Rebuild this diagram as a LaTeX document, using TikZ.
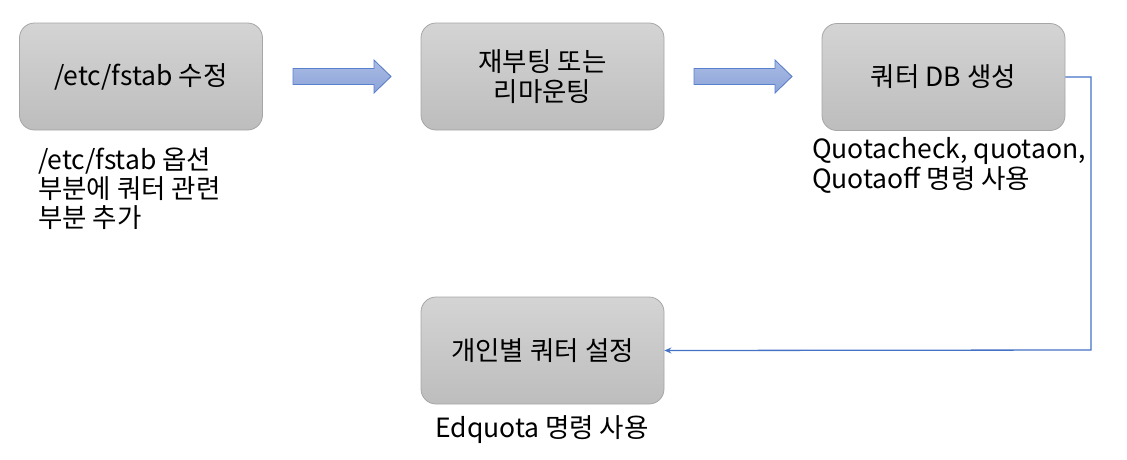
\documentclass[tikz,border=0pt]{standalone}
\usepackage{fontspec}
\setmainfont{Noto Sans CJK KR}
\usetikzlibrary{arrows.meta}
\definecolor{boxtop}{HTML}{D4D4D4}
\definecolor{boxbot}{HTML}{BDBDBD}
\definecolor{boxline}{HTML}{A6A6A6}
\definecolor{arrtop}{HTML}{A9BBE4}
\definecolor{arrbot}{HTML}{8DA4D9}
\definecolor{arrline}{HTML}{5B80CC}
\definecolor{conncol}{HTML}{4472C4}
\tikzset{
  stepbox/.style={draw=boxline, line width=0.8pt, rounded corners=15pt,
    top color=boxtop, bottom color=boxbot, minimum width=243pt, minimum height=107pt,
    align=center, font=\fontsize{26.5}{30}\selectfont, inner sep=0pt},
  lbl/.style={font=\fontsize{26.5}{29}\selectfont, inner sep=0pt},
  blockarr/.style={draw=arrline, line width=0.8pt, top color=arrtop, bottom color=arrbot},
  conn/.style={draw=conncol, line width=1.3pt, -{Stealth[length=7pt,width=6pt]}}
}
\begin{document}
\begin{tikzpicture}[x=1pt,y=-1pt]
\useasboundingbox (0,0) rectangle (1127,459);
\node[stepbox] (b1) at (141,76.5) {/etc/fstab 수정};
\node[stepbox] (b2) at (542.5,76.5) {재부팅 또는\\리마운팅};
\node[stepbox] (b3) at (943.5,77) {쿼터 DB 생성};
\node[stepbox] (b4) at (542.5,350.5) {개인별 쿼터 설정};
\node[lbl, anchor=north west, align=left] (l1) at (38,147) {/etc/fstab 옵션\\부분에 쿼터 관련\\부분 추가};
\node[lbl, anchor=north west, align=left, font=\fontsize{26.5}{30}\selectfont] (l3) at (812,137) {Quotacheck, quotaon,\\Quotaoff 명령 사용};
\node[lbl, anchor=center] (l4) at (542,430) {Edquota 명령 사용};
\filldraw[blockarr] (293,68.5) -- (374,68.5) -- (374,60) -- (391,76.5) -- (374,93) -- (374,84.5) -- (293,84.5) -- cycle;
\filldraw[blockarr] (694,68.5) -- (775,68.5) -- (775,60) -- (792,76.5) -- (775,93) -- (775,84.5) -- (694,84.5) -- cycle;
\coordinate (c1) at (1091,350);
\draw[conn] (b3.east) -| (c1) -- (b4.east);
\end{tikzpicture}
\end{document}
